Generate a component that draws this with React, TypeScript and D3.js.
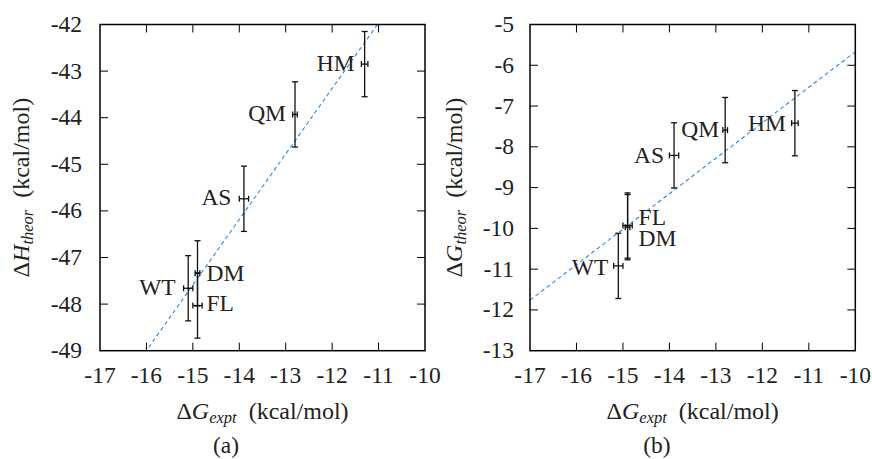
import React from "react";
import * as d3 from "d3";

const mutants = ["WT", "DM", "FL", "AS", "QM", "HM"];
const dGexpt = [-15.1, -14.9, -14.9, -13.9, -12.8, -11.3];
const dGexptErr = [0.1, 0.05, 0.1, 0.1, 0.05, 0.07];
const dHtheor = [-47.66, -47.34, -48.03, -45.74, -43.93, -42.85];
const dHtheorErr = [0.7, 0.7, 0.7, 0.7, 0.7, 0.7];
const dGtheor = [-10.92, -9.97, -9.93, -8.21, -7.59, -7.42];
const dGtheorErr = [0.8, 0.8, 0.8, 0.8, 0.8, 0.8];
const fitH = { slope: 1.406, intercept: -26.5 };
const fitG = { slope: 0.87, intercept: 3.03 };
const xTicks = [-17, -16, -15, -14, -13, -12, -11, -10];
const yTicksH = [-42, -43, -44, -45, -46, -47, -48, -49];
const yTicksG = [-5, -6, -7, -8, -9, -10, -11, -12, -13];

// label placement (px offsets) per mutant
const labelsA = [
  { anchor: "end", dx: -12.5, dy: 7 },
  { anchor: "start", dx: 9, dy: 8 },
  { anchor: "start", dx: 9, dy: 5.5 },
  { anchor: "end", dx: -12.5, dy: 6 },
  { anchor: "end", dx: -9, dy: 6.5 },
  { anchor: "end", dx: -10, dy: 6.5 },
];
const labelsB = [
  { anchor: "end", dx: -10, dy: 9 },
  { anchor: "start", dx: 11, dy: 18.5 },
  { anchor: "start", dx: 11, dy: -1 },
  { anchor: "end", dx: -10, dy: 8 },
  { anchor: "end", dx: -6, dy: 7 },
  { anchor: "end", dx: -9, dy: 7.5 },
];

const FONT = "'Liberation Serif', 'Times New Roman', serif";
const FS = 23.5;

type PanelProps = {
  id: string;
  left: number;
  right: number;
  top: number;
  bottom: number;
  yDomain: [number, number];
  yTicks: number[];
  yVals: number[];
  yErr: number[];
  fit: { slope: number; intercept: number };
  labels: { anchor: string; dx: number; dy: number }[];
  yTitleX: number;
  ySym: string;
  ySub: string;
  caption: string;
  captionX: number;
  tickGap: number;
};

function Panel(p: PanelProps) {
  const x = d3.scaleLinear().domain([-17, -10]).range([p.left, p.right]);
  const y = d3.scaleLinear().domain(p.yDomain).range([p.bottom, p.top]);
  const tl = 8;
  const line = d3
    .line<number>()
    .x((d) => x(d))
    .y((d) => y(p.fit.slope * d + p.fit.intercept));
  const cx = (p.left + p.right) / 2;
  const cy = (p.top + p.bottom) / 2;
  const cap = 3;
  return (
    <g>
      <defs>
        <clipPath id={"clip" + p.id}>
          <rect x={p.left} y={p.top} width={p.right - p.left} height={p.bottom - p.top} />
        </clipPath>
      </defs>
      {xTicks.map((t) => (
        <g key={"xt" + t}>
          {t > -17 && t < -10 && (
            <>
              <line x1={x(t)} x2={x(t)} y1={p.bottom} y2={p.bottom - tl} stroke="#000" strokeWidth={1} />
              <line x1={x(t)} x2={x(t)} y1={p.top} y2={p.top + tl} stroke="#000" strokeWidth={1} />
            </>
          )}
          <text x={x(t)} y={p.bottom + 32} textAnchor="middle" fontFamily={FONT} fontSize={FS} fill="#222">
            {t}
          </text>
        </g>
      ))}
      {p.yTicks.map((t, i) => (
        <g key={"yt" + t}>
          {i > 0 && i < p.yTicks.length - 1 && (
            <>
              <line x1={p.left} x2={p.left + tl} y1={y(t)} y2={y(t)} stroke="#000" strokeWidth={1} />
              <line x1={p.right} x2={p.right - tl} y1={y(t)} y2={y(t)} stroke="#000" strokeWidth={1} />
            </>
          )}
          <text x={p.left - p.tickGap} y={y(t) + 7.5} textAnchor="end" fontFamily={FONT} fontSize={FS} fill="#222">
            {t}
          </text>
        </g>
      ))}
      <path
        d={line(d3.range(-17, -9.99, 0.05)) || ""}
        clipPath={`url(#clip${p.id})`}
        fill="none"
        stroke="#2e8ad8"
        strokeWidth={1.1}
        strokeDasharray="4,3"
      />
      {mutants.map((m, i) => {
        const px = x(dGexpt[i]);
        const py = y(p.yVals[i]);
        const y1 = y(p.yVals[i] + p.yErr[i]);
        const y2 = y(p.yVals[i] - p.yErr[i]);
        const x1 = x(dGexpt[i] - dGexptErr[i]);
        const x2 = x(dGexpt[i] + dGexptErr[i]);
        return (
          <g key={m} stroke="#111" strokeWidth={1.3}>
            <line x1={px} x2={px} y1={y1} y2={y2} />
            <line x1={px - cap} x2={px + cap} y1={y1} y2={y1} />
            <line x1={px - cap} x2={px + cap} y1={y2} y2={y2} />
            <line x1={x1} x2={x2} y1={py} y2={py} />
            <line x1={x1} x2={x1} y1={py - cap} y2={py + cap} />
            <line x1={x2} x2={x2} y1={py - cap} y2={py + cap} />
          </g>
        );
      })}
      {mutants.map((m, i) => (
        <text
          key={"l" + m}
          x={x(dGexpt[i]) + p.labels[i].dx}
          y={y(p.yVals[i]) + p.labels[i].dy}
          textAnchor={p.labels[i].anchor as any}
          fontFamily={FONT}
          fontSize={FS}
          fill="#222"
        >
          {m}
        </text>
      ))}
      <rect x={p.left} y={p.top} width={p.right - p.left} height={p.bottom - p.top} fill="none" stroke="#000" strokeWidth={1.5} />
      <text x={cx} y={p.bottom + 68} textAnchor="middle" fontFamily={FONT} fontSize={24} fill="#222">
        <tspan>Δ</tspan>
        <tspan fontStyle="italic">G</tspan>
        <tspan fontStyle="italic" fontSize={16.5} dy={4}>expt</tspan>
        <tspan dy={-4}>{"\u00a0\u00a0(kcal/mol)"}</tspan>
      </text>
      <text x={p.captionX} y={p.bottom + 102} textAnchor="middle" fontFamily={FONT} fontSize={FS} fill="#222">
        {p.caption}
      </text>
      <text
        transform={`translate(${p.yTitleX},${cy}) rotate(-90)`}
        textAnchor="middle"
        fontFamily={FONT}
        fontSize={24}
        fill="#222"
      >
        <tspan>Δ</tspan>
        <tspan fontStyle="italic">{p.ySym}</tspan>
        <tspan fontStyle="italic" fontSize={16.5} dy={4}>{p.ySub}</tspan>
        <tspan dy={-4}>{"\u00a0\u00a0(kcal/mol)"}</tspan>
      </text>
    </g>
  );
}

export default function App() {
  return (
    <svg width={872} height={459} style={{ position: "absolute", left: 0, top: 0, background: "#fff" }}>
      <rect width={872} height={459} fill="#fff" />
      <Panel
        id="a"
        left={100}
        right={425}
        top={24.5}
        bottom={350.7}
        yDomain={[-49, -42]}
        yTicks={yTicksH}
        yVals={dHtheor}
        yErr={dHtheorErr}
        fit={fitH}
        labels={labelsA}
        yTitleX={29}
        ySym="H"
        ySub="theor"
        caption="(a)"
        captionX={226}
        tickGap={18}
      />
      <Panel
        id="b"
        left={530}
        right={855.3}
        top={24.5}
        bottom={350.7}
        yDomain={[-13, -5]}
        yTicks={yTicksG}
        yVals={dGtheor}
        yErr={dGtheorErr}
        fit={fitG}
        labels={labelsB}
        yTitleX={462}
        ySym="G"
        ySub="theor"
        caption="(b)"
        captionX={657}
        tickGap={16}
      />
    </svg>
  );
}
